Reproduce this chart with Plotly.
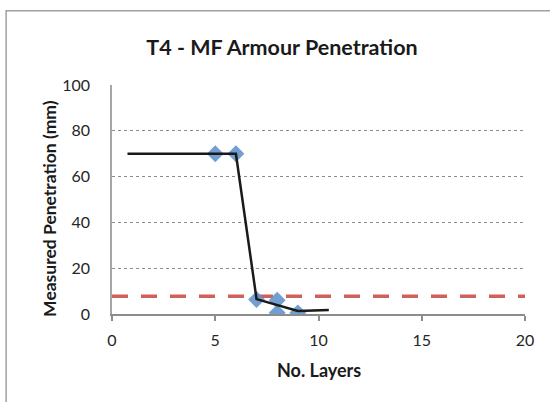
import plotly.graph_objects as go

# Data
layers = [5, 6, 7, 8, 8, 9]
penetration = [70, 70, 6.3, 6, 0.5, 0.5]

trend_layers = [0.75, 6, 7, 9, 10.5]
trend_penetration = [70, 70, 6.5, 1.3, 1.7]

threshold_layers = [0, 20]
threshold_value = [7.7, 7.7]

x_ticks = [0, 5, 10, 15, 20]
y_ticks = [0, 20, 40, 60, 80, 100]

W, H = 550, 402
# plot area in page pixels
PX0, PX1, PY0, PY1 = 112.3, 525, 85, 314.5
L, R, T, B = PX0, W - PX1, PY0, H - PY1
pw = PX1 - PX0
ph = PY1 - PY0

def px_x(px):
    return (px - PX0) / pw

def px_y(py):
    return (PY1 - py) / ph

FONT = "Lato"

fig = go.Figure()
fig.add_trace(go.Scatter(
    x=threshold_layers, y=threshold_value, mode="lines",
    line=dict(color="#D0605B", width=3.5, dash="16px,13px"),
    hoverinfo="skip", showlegend=False))
fig.add_trace(go.Scatter(
    x=layers, y=penetration, mode="markers",
    marker=dict(symbol="diamond", size=13, color="#6393CC", opacity=0.9,
                line=dict(width=0)),
    showlegend=False))
fig.add_trace(go.Scatter(
    x=trend_layers, y=trend_penetration, mode="lines",
    line=dict(color="#1a1a1a", width=2.5),
    showlegend=False))

fig.update_layout(
    width=W, height=H,
    margin=dict(l=L, r=R, t=T, b=B, pad=0),
    paper_bgcolor="white", plot_bgcolor="white",
    font=dict(family=FONT, color="#262626", size=16),
    showlegend=False,
    title=dict(text="<b>T4 - MF Armour Penetration</b>",
               x=282 / W, xref="container", xanchor="center",
               y=1 - 47 / H, yref="container", yanchor="middle",
               font=dict(family=FONT, size=21.5, color="#1a1a1a")),
    xaxis=dict(range=[0, 20], tickvals=x_ticks, showgrid=False,
               zeroline=False, showline=True, linecolor="#8c8c8c",
               linewidth=1.5, ticks="outside", ticklen=5, tickwidth=1.5,
               tickcolor="#8c8c8c", ticklabelstandoff=6,
               tickfont=dict(size=16, family=FONT, color="#262626")),
    yaxis=dict(range=[0, 100], tickvals=y_ticks, showgrid=True,
               gridcolor="#8c8c8c", griddash="dot", gridwidth=1,
               zeroline=False, showline=True, linecolor="#a6a6a6",
               linewidth=1.5, ticks="", ticklabelstandoff=17,
               tickfont=dict(size=16, family=FONT, color="#262626")),
    annotations=[
        dict(text="<b>No. Layers</b>", xref="paper", yref="paper",
             x=px_x(319), y=px_y(370.7), xanchor="center", yanchor="middle",
             showarrow=False, font=dict(size=18, family=FONT, color="#1a1a1a")),
        dict(text="<b>Measured Penetration (mm)</b>", xref="paper",
             yref="paper", x=px_x(50), y=px_y(208.5), textangle=-90,
             xanchor="center", yanchor="middle", showarrow=False,
             font=dict(size=17.5, family=FONT, color="#1a1a1a")),
    ],
    shapes=[dict(type="rect", xref="paper", yref="paper",
                 x0=px_x(6.5), x1=px_x(570), y0=px_y(430), y1=px_y(10.5),
                 line=dict(color="#a0a0a0", width=1.5), layer="below")],
)

fig.write_html(
    "out.html",
    config={"displayModeBar": False},
    post_script="document.body.style.margin='0';document.body.style.overflow='hidden';",
)
